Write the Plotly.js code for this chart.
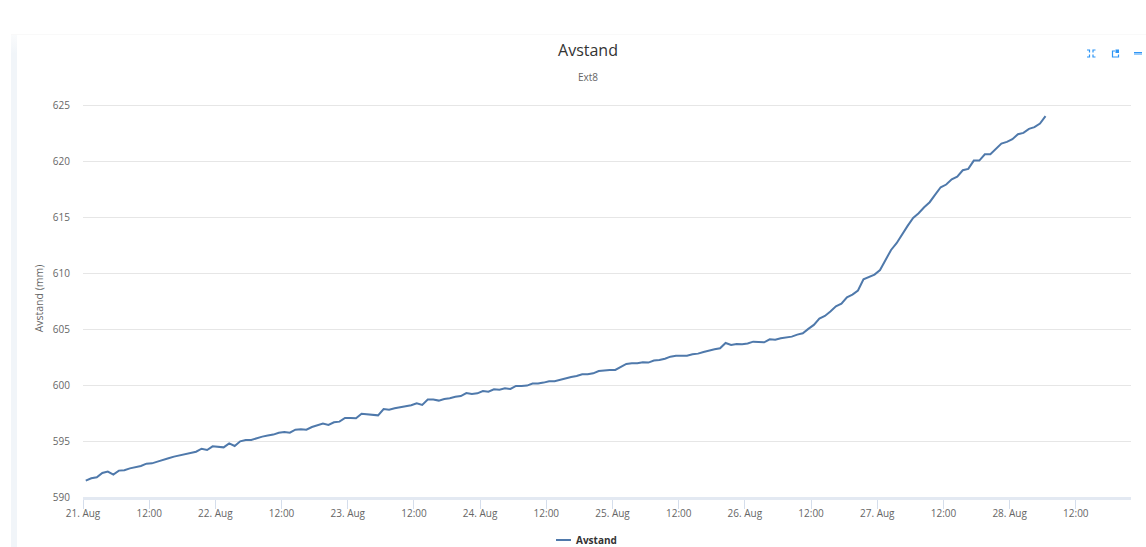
<!DOCTYPE html>
<html>
<head>
<meta charset="utf-8">
<script src="https://cdn.plot.ly/plotly-3.0.1.min.js"></script>
<style>
html,body{margin:0;padding:0;background:#fff;width:1146px;height:547px;overflow:hidden}
#chart{position:absolute;left:0;top:0;width:1146px;height:547px}
#band{position:absolute;left:11px;top:34px;width:6px;height:513px;background:linear-gradient(#fafbfc,#f1f5f9 20px)}
#topline{position:absolute;left:11px;top:34px;width:1135px;height:1px;background:#f9f9f9}
#icons{position:absolute;left:1080px;top:44px}
.legendlines path{d:path("M20,0h15")}
</style>
</head>
<body>
<div id="chart"></div>
<div id="band"></div>
<div id="topline"></div>
<svg id="icons" width="66" height="18" viewBox="0 0 66 18">
  <g fill="none" stroke="#2f96f5" stroke-width="1.2">
    <path d="M7 6h2.500v2.500M15.500 6H13v2.500M7 13h2.500v-2.500M15.500 13H13v-2.500"/>
    <path d="M35 7h-2.500v6h6v-2.500"/>
    <path d="M54 8.500h8M54 10h8"/>
  </g>
  <rect x="35.500" y="5.500" width="3.500" height="3.500" fill="#2f96f5"/>
</svg>
<script>
const startTime = Date.UTC(2021, 7, 21, 0, 30);
const seriesName = "Avstand";
const valuesA = [591.46,591.67,591.76,592.15,592.27,592.00,592.36,592.39,592.56,592.68,592.77,592.98,593.01,593.16,593.34,593.46,593.61,593.73,593.79,593.93,594.05,594.32,594.20,594.53,594.47,594.44,594.80,594.56,594.98,595.10,595.10,595.28,595.40,595.49,595.58,595.75,595.81,595.75,596.02,596.05,596.02,596.26,596.38];
const valuesB = [596.56,596.44,596.68,596.74,597.07,597.07,597.04,597.45,597.39,597.30,597.30,597.87,597.81,597.93,597.99,598.11,598.20,598.38,598.23,598.71,598.71,598.62,598.77,598.83,598.97,599.03,599.30,599.21,599.27,599.48,599.42,599.63,599.60,599.72,599.66,599.93,599.93,599.96,600.14,600.14,600.23,600.35];
const valuesC = [600.35,600.50,600.64,600.73,600.82,600.97,600.97,601.06,601.27,601.33,601.36,601.36,601.66,601.90,601.96,601.96,602.05,602.02,602.20,602.25,602.37,602.55,602.64,602.64,602.64,602.76,602.82,602.97,603.12,603.21,603.30,603.77,603.60,603.69,603.66,603.72,603.89,603.89,603.83,604.10,604.07,604.19,604.25,604.34,604.52,604.64,605.03,605.39];
const valuesD = [605.95,606.19,606.58,607.05,607.29,607.86,608.10,608.46,609.47,609.71,609.89,610.30,611.26,612.09,612.69,613.49,614.24,614.96,615.37,615.91,616.36,617.04,617.70,617.94,618.41,618.65,619.22,619.34,620.08,620.08,620.65,620.65,621.16,621.60,621.75,621.99,622.44,622.56,622.92,623.07,623.39,624.05];
const tickLabels = ["21. Aug","12:00","22. Aug","12:00","23. Aug","12:00","24. Aug","12:00","25. Aug","12:00","26. Aug","12:00","27. Aug","12:00","28. Aug","12:00"];
const yTicks = [590,595,600,605,610,615,620,625];

const values = valuesA.concat(valuesB, valuesC, valuesD);
const HOUR = 3600000;
const times = values.map((_, i) => new Date(startTime + i * HOUR).toISOString());
const dayZero = Date.UTC(2021, 7, 21);
const tickVals = tickLabels.map((_, i) => new Date(dayZero + i * 12 * HOUR).toISOString());
const font = '"Open Sans", sans-serif';

Plotly.newPlot('chart', [{
  x: times, y: values, type: 'scatter', mode: 'lines', name: seriesName,
  line: {color: '#4f79ab', width: 2}
}], {
  width: 1146, height: 547,
  paper_bgcolor: '#fff', plot_bgcolor: '#fff',
  margin: {l: 83, r: 15.3, t: 99.9, b: 50, pad: 0},
  font: {family: font, color: '#666', size: 10},
  title: {
    text: 'Avstand', x: 588/1146, xref: 'container', xanchor: 'center',
    y: 1 - 50.5/547, yref: 'container', yanchor: 'middle',
    font: {family: font, size: 16, color: '#333'},
    subtitle: {text: 'Ext8', font: {family: font, size: 10, color: '#666'}}
  },
  xaxis: {
    type: 'date',
    range: [new Date(dayZero).toISOString(), new Date(dayZero + 190 * HOUR).toISOString()],
    tickmode: 'array', tickvals: tickVals, ticktext: tickLabels,
    ticks: 'outside', ticklen: 9, tickwidth: 1, tickcolor: '#d5deec',
    ticklabelstandoff: -4,
    showgrid: false, zeroline: false,
    showline: true, linecolor: '#e3e9f2', linewidth: 3,
    tickangle: 0, tickfont: {family: font, size: 10, color: '#666'}
  },
  yaxis: {
    range: [590, 625.5], tickmode: 'array', tickvals: yTicks,
    showgrid: true, gridcolor: '#e6e6e6', gridwidth: 1.4, zeroline: false,
    ticks: '', ticklabelstandoff: 12,
    showline: false, tickfont: {family: font, size: 10, color: '#666'},
    title: {text: 'Avstand (mm)', standoff: 7, font: {family: font, size: 10.5, color: '#666'}}
  },
  showlegend: true,
  legend: {
    orientation: 'h', x: 579/1146, xref: 'container', xanchor: 'center',
    y: 7/547, yref: 'container', yanchor: 'middle',
    font: {family: font, size: 10, color: '#333', weight: 700},
    bgcolor: 'rgba(0,0,0,0)'
  }
}, {displayModeBar: false, responsive: false});
</script>
</body>
</html>
